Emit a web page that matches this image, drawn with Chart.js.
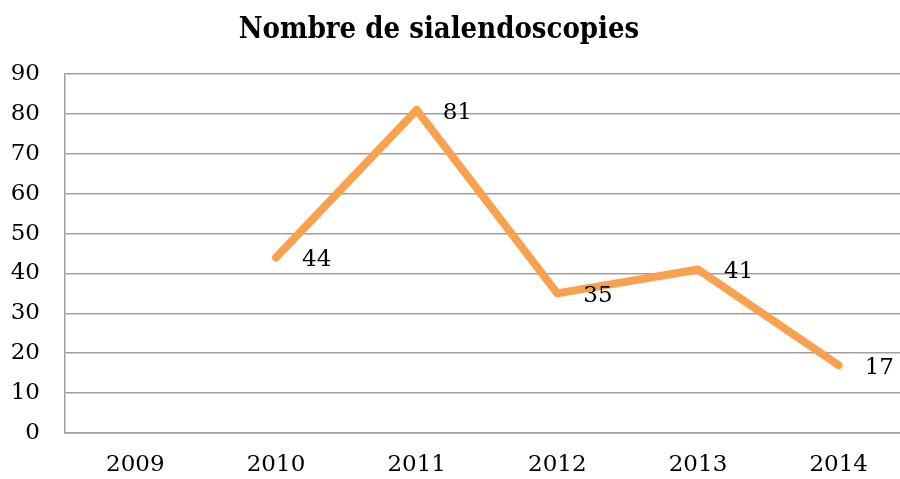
<!DOCTYPE html>
<html>
<head>
<meta charset="utf-8">
<script src="https://cdn.jsdelivr.net/npm/chart.js@4"></script>
<style>
html,body{margin:0;padding:0;background:#fff;overflow:hidden;}
#wrap{width:900px;height:479px;position:relative;overflow:hidden;}
</style>
</head>
<body>
<div id="wrap"><canvas id="c" width="909" height="479"></canvas></div>
<script>
const chartTitle = "Nombre de sialendoscopies";
const categories = ["2009", "2010", "2011", "2012", "2013", "2014"];
const values = [null, 44, 81, 35, 41, 17];
const yTicks = [0, 10, 20, 30, 40, 50, 60, 70, 80, 90];

const FONT = "'DejaVu Serif', 'Liberation Serif', serif";

const titlePlugin = {
  id: 'customTitle',
  afterDraw(chart) {
    const ctx = chart.ctx;
    ctx.save();
    ctx.font = "bold 29px 'DejaVu Serif Condensed', 'DejaVu Serif', serif";
    ctx.fillStyle = '#000';
    ctx.textAlign = 'center';
    ctx.textBaseline = 'middle';
    ctx.fillText(chartTitle, 439, 30);
    ctx.restore();
  }
};

const labelPlugin = {
  id: 'valueLabels',
  afterDatasetsDraw(chart) {
    const ctx = chart.ctx;
    const meta = chart.getDatasetMeta(0);
    ctx.save();
    ctx.font = "23px " + FONT;
    ctx.fillStyle = '#000';
    ctx.textAlign = 'left';
    ctx.textBaseline = 'middle';
    meta.data.forEach((pt, i) => {
      const v = values[i];
      if (v === null || v === undefined) return;
      ctx.fillText(String(v), pt.x + 26, pt.y + 3);
    });
    ctx.restore();
  }
};

new Chart(document.getElementById('c'), {
  type: 'line',
  data: {
    labels: categories,
    datasets: [{
      data: values,
      borderColor: '#F9A14F',
      borderWidth: 8,
      borderCapStyle: 'round',
      borderJoinStyle: 'round',
      pointRadius: 0,
      pointHoverRadius: 0,
      tension: 0,
      fill: false
    }]
  },
  options: {
    responsive: false,
    animation: false,
    events: [],
    layout: { padding: { left: 8, right: 0, top: 74, bottom: 0 } },
    plugins: {
      legend: { display: false },
      title: { display: false },
      tooltip: { enabled: false }
    },
    scales: {
      x: {
        offset: true,
        afterFit(scale) { scale.height = 46; scale.paddingLeft = 0; scale.paddingRight = 0; },
        grid: { display: false, drawTicks: false },
        border: { display: true, color: '#A0A0A0', width: 1.5 },
        ticks: { color: '#000', font: { family: FONT, size: 23 }, padding: 18, maxRotation: 0, autoSkip: false }
      },
      y: {
        min: 0,
        max: 90,
        afterBuildTicks(scale) { scale.ticks = yTicks.map(v => ({ value: v })); },
        afterFit(scale) { scale.width = 57; scale.paddingTop = 0; scale.paddingBottom = 0; },
        grid: { color: '#A0A0A0', lineWidth: 1.5, drawTicks: false },
        border: { display: true, color: '#A0A0A0', width: 1.5 },
        ticks: { color: '#000', font: { family: FONT, size: 23 }, padding: 25 }
      }
    }
  },
  plugins: [titlePlugin, labelPlugin]
});
</script>
</body>
</html>
